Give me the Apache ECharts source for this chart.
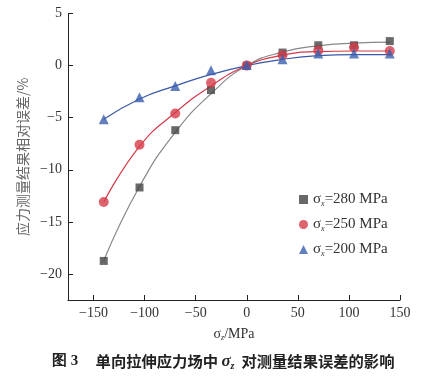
<!DOCTYPE html>
<html><head><meta charset="utf-8">
<script src="https://cdn.jsdelivr.net/npm/echarts@6/dist/echarts.min.js"></script>
<style>html,body{margin:0;padding:0;background:#fff}#c{width:433px;height:379px}</style>
</head><body><div id="c"></div>
<script>
var xValues = [-140, -105, -70, -35, 0, 35, 70, 105, 140];
var xTicks = [-150, -100, -50, 0, 50, 100, 150];
var yTicks = [-20, -15, -10, -5, 0, 5];
// measured points
var s280 = [-18.75, -11.7, -6.2, -2.35, 0, 1.25, 1.95, 1.95, 2.35];
var s250 = [-13.1, -7.6, -4.6, -1.65, 0, 1.0, 1.45, 1.75, 1.4];
var s200 = [-5.15, -3.05, -1.95, -0.45, 0.05, 0.6, 1.15, 1.15, 1.15];
// fitted curves
var f280 = [-18.7, -11.6, -6.4, -2.7, 0, 1.3, 1.9, 2.15, 2.25];
var f250 = [-13.1, -7.75, -4.5, -1.95, 0, 1.0, 1.35, 1.4, 1.4];
var f200 = [-5.15, -3.2, -1.95, -0.85, 0, 0.6, 0.95, 1.05, 1.05];
var legendNames = ['280', '250', '200'];

function pairs(v){ return xValues.map(function(x,i){ return [x, v[i]]; }); }
function minus(v){ return String(v).replace('-', '\u2212'); }
var serif = '"Liberation Serif", "DejaVu Serif", serif';
var cjk = '"Noto Sans CJK SC", sans-serif';

var chart = echarts.init(document.getElementById('c'));
var txt = '#333';
chart.setOption({
  animation: false,
  grid: { left: 68, right: 33, top: 13.5, bottom: 79 },
  xAxis: {
    type: 'value', min: -175, max: 150,
    axisLine: { onZero: false, lineStyle: { color: '#222', width: 1 } },
    axisTick: { inside: true, length: 5, customValues: xTicks, lineStyle: { color: '#222' } },
    axisLabel: { customValues: xTicks, color: txt, fontFamily: serif, fontSize: 14, margin: 6, formatter: minus },
    splitLine: { show: false },
    name: '{a|σ}{s|z}{a|/MPa}', nameLocation: 'middle', nameGap: 26,
    nameTextStyle: { rich: {
      a: { fontFamily: serif, fontSize: 14, color: txt },
      s: { fontFamily: serif, fontSize: 8, fontStyle: 'italic', color: txt, padding: [8, 0, 0, 0] }
    } }
  },
  yAxis: {
    type: 'value', min: -22.5, max: 5,
    axisLine: { show: true, onZero: false, lineStyle: { color: '#222', width: 1 } },
    axisTick: { show: true, inside: true, length: 5, customValues: yTicks, lineStyle: { color: '#222' } },
    axisLabel: { customValues: yTicks, color: txt, fontFamily: serif, fontSize: 14, margin: 6, formatter: minus },
    splitLine: { show: false },
    name: '应力测量结果相对误差/%', nameLocation: 'middle', nameGap: 34, nameRotate: 90,
    nameTextStyle: { fontFamily: cjk, fontSize: 14, color: '#666' }
  },
  legend: {
    orient: 'vertical', left: 294, top: 187, itemGap: 9, itemWidth: 9, itemHeight: 9,
    data: ['s280', 's250', 's200'].map(function(n){ return { name: n }; }),
    formatter: function(n){ return '{a|σ}{s|x}{a|=' + n.slice(1) + ' MPa}'; },
    textStyle: { rich: {
      a: { fontFamily: serif, fontSize: 15, color: txt },
      s: { fontFamily: serif, fontSize: 8, fontStyle: 'italic', color: txt, padding: [9, 0, 0, 0] }
    } }
  },
  series: [
    { type: 'line', data: pairs(f280), smooth: 0.5, showSymbol: false, symbol: 'none', lineStyle: { color: '#888', width: 1.2 }, silent: true, z: 1 },
    { type: 'line', data: pairs(f250), smooth: 0.5, showSymbol: false, symbol: 'none', lineStyle: { color: '#d33a48', width: 1.2 }, silent: true, z: 1 },
    { type: 'line', data: pairs(f200), smooth: 0.5, showSymbol: false, symbol: 'none', lineStyle: { color: '#3a58a8', width: 1.2 }, silent: true, z: 1 },
    { name: 's280', type: 'scatter', data: pairs(s280), symbol: 'rect', symbolSize: 8, itemStyle: { color: '#444' }, z: 3 },
    { name: 's250', type: 'scatter', data: pairs(s250), symbol: 'circle', symbolSize: 10, itemStyle: { color: '#d63c4a' }, z: 3 },
    { name: 's200', type: 'scatter', data: pairs(s200), symbol: 'triangle', symbolSize: 10, itemStyle: { color: '#3a5fae' }, z: 3 }
  ],
  graphic: [{
    type: 'text', left: 52, top: 353,
    style: {
      text: '{b|图 3}{c|     单向拉伸应力场中 }{g|σ}{gs|z}{c|  对测量结果误差的影响}',
      rich: {
        b: { fontFamily: serif, fontSize: 15, fontWeight: 'bold', fill: '#222' },
        c: { fontFamily: cjk, fontSize: 15.3, fontWeight: 'bold', fill: '#222' },
        g: { fontFamily: serif, fontSize: 17, fontStyle: 'italic', fontWeight: 'bold', fill: '#222' },
        gs: { fontFamily: serif, fontSize: 10, fontStyle: 'italic', fontWeight: 'bold', fill: '#222', padding: [9, 0, 0, 0] }
      }
    }
  }]
});
</script></body></html>
